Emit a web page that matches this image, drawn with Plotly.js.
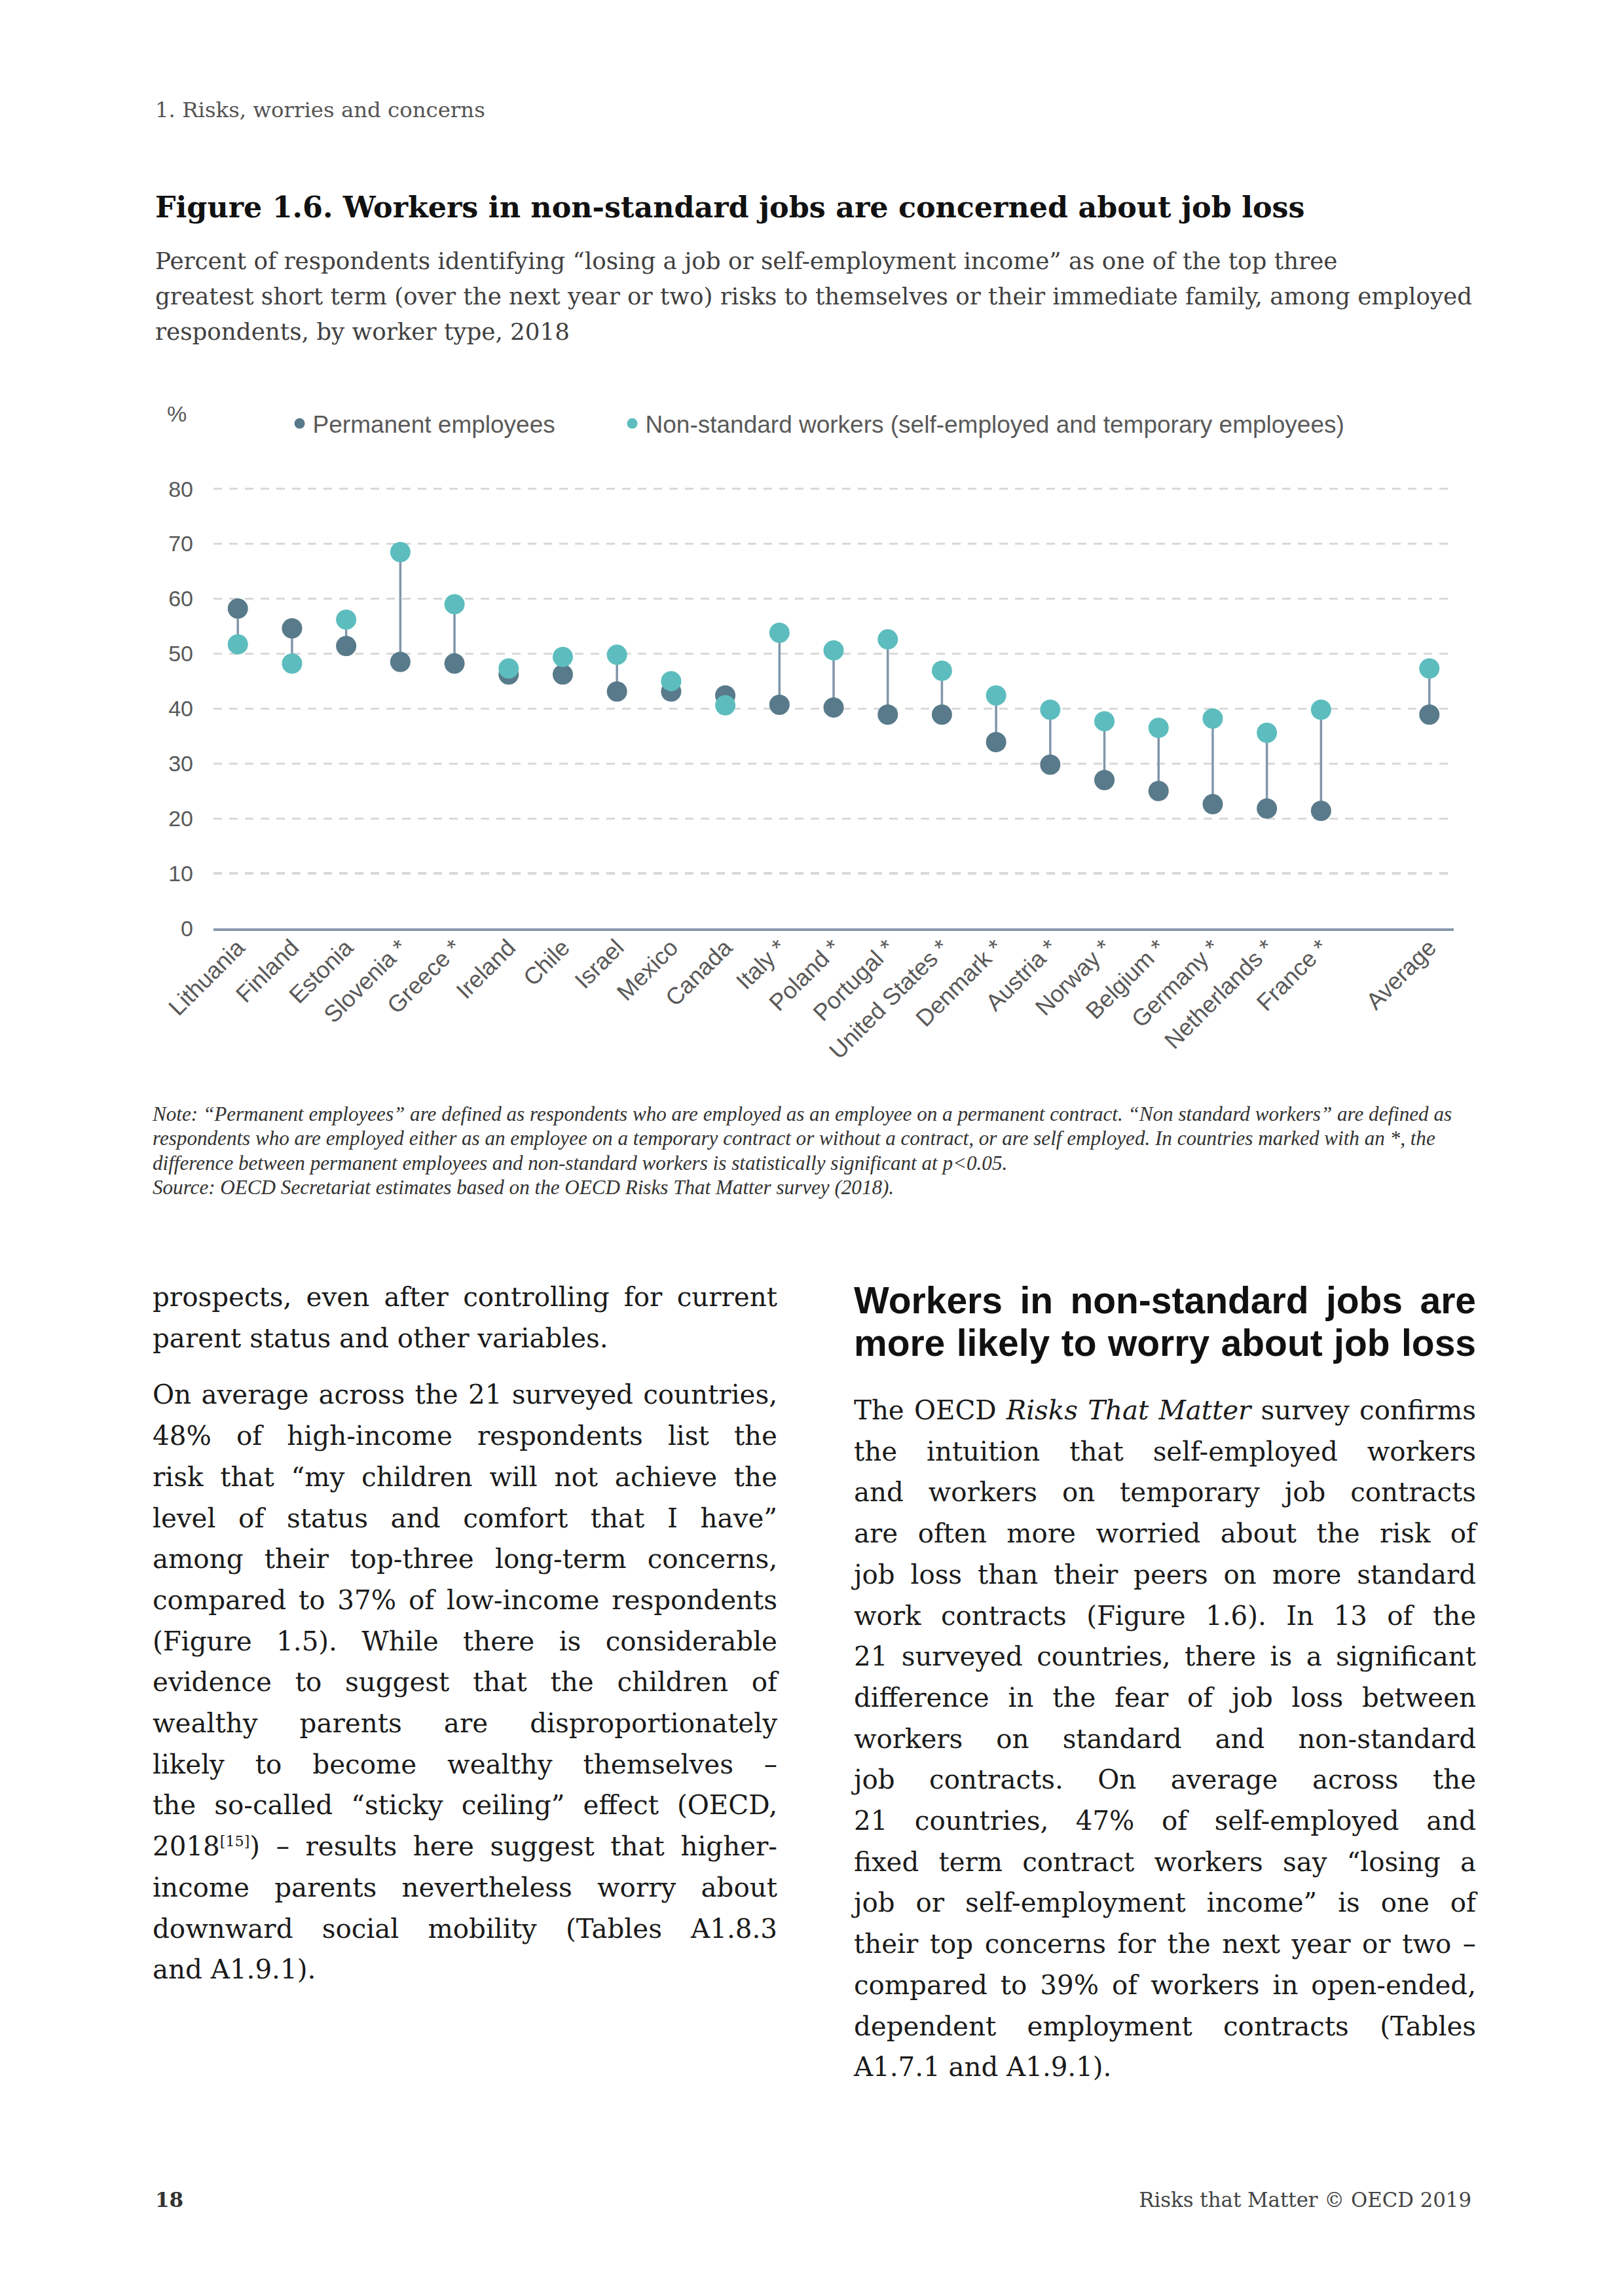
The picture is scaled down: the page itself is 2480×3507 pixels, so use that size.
<!DOCTYPE html>
<html>
<head>
<meta charset="utf-8">
<script src="https://cdn.plot.ly/plotly-3.0.1.min.js"></script>
<style>
  html, body { margin:0; padding:0; background:#fff; }
  body { width:2480px; height:3507px; position:relative; overflow:hidden; }
  .abs { position:absolute; }
  .serif { font-family:"DejaVu Serif", serif; }
  .j { text-align:justify; text-align-last:justify; }
  .l { text-align:left; }
  .body-col { font-family:"DejaVu Serif", serif; font-size:40px; line-height:62.7px; color:#1a1a1a; }
  .notes { font-family:"Liberation Serif", serif; font-style:italic; font-size:30px; line-height:37.4px; color:#333; white-space:nowrap; }
</style>
</head>
<body>
<div id="hdr" class="abs serif" style="left:237px; top:148px; font-size:32px; line-height:40px; color:#555; white-space:nowrap;">1. Risks, worries and concerns</div>

<div id="ttl" class="abs serif" style="left:237px; top:288px; font-size:44px; line-height:56px; font-weight:bold; color:#111; white-space:nowrap;">Figure 1.6. Workers in non-standard jobs are concerned about job loss</div>

<div id="sub" class="abs serif" style="left:237px; top:372px; font-size:35px; line-height:53.8px; color:#404040; white-space:nowrap;">Percent of respondents identifying “losing a job or self-employment income” as one of the top three<br>greatest short term (over the next year or two) risks to themselves or their immediate family, among employed<br>respondents, by worker type, 2018</div>

<div id="chart" class="abs" style="left:0px; top:560px; width:2480px; height:1150px;"></div>

<div id="notes" class="abs notes" style="left:233px; top:1683px;">Note: “Permanent employees” are defined as respondents who are employed as an employee on a permanent contract. “Non standard workers” are defined as<br>respondents who are employed either as an employee on a temporary contract or without a contract, or are self employed. In countries marked with an *, the<br>difference between permanent employees and non-standard workers is statistically significant at p&lt;0.05.<br>Source: OECD Secretariat estimates based on the OECD Risks That Matter survey (2018).</div>

<div id="colL" class="abs body-col" style="left:233px; top:1951px; width:954px;">
  <div class="j">prospects, even after controlling for current</div>
  <div class="l">parent status and other variables.</div>
  <div style="height:24px"></div>
  <div class="j">On average across the 21 surveyed countries,</div>
  <div class="j">48% of high-income respondents list the</div>
  <div class="j">risk that “my children will not achieve the</div>
  <div class="j">level of status and comfort that I have”</div>
  <div class="j">among their top-three long-term concerns,</div>
  <div class="j">compared to 37% of low-income respondents</div>
  <div class="j">(Figure 1.5). While there is considerable</div>
  <div class="j">evidence to suggest that the children of</div>
  <div class="j">wealthy parents are disproportionately</div>
  <div class="j">likely to become wealthy themselves –</div>
  <div class="j">the so-called “sticky ceiling” effect (OECD,</div>
  <div class="j">2018<sup style="font-size:0.55em; line-height:0;">[15]</sup>) – results here suggest that higher-</div>
  <div class="j">income parents nevertheless worry about</div>
  <div class="j">downward social mobility (Tables A1.8.3</div>
  <div class="l">and A1.9.1).</div>
</div>

<div id="headR" class="abs" style="left:1304px; top:1954px; width:950px; font-family:'Liberation Sans', Arial, sans-serif; font-weight:bold; font-size:52px; line-height:65px; color:#111;">
  <div class="j">Workers in non-standard jobs are</div>
  <div class="j">more likely to worry about job loss</div>
</div>

<div id="colR" class="abs body-col" style="left:1304px; top:2124px; width:950px;">
  <div class="j">The OECD <i>Risks That Matter</i> survey confirms</div>
  <div class="j">the intuition that self-employed workers</div>
  <div class="j">and workers on temporary job contracts</div>
  <div class="j">are often more worried about the risk of</div>
  <div class="j">job loss than their peers on more standard</div>
  <div class="j">work contracts (Figure 1.6). In 13 of the</div>
  <div class="j">21 surveyed countries, there is a significant</div>
  <div class="j">difference in the fear of job loss between</div>
  <div class="j">workers on standard and non-standard</div>
  <div class="j">job contracts. On average across the</div>
  <div class="j">21 countries, 47% of self-employed and</div>
  <div class="j">fixed term contract workers say “losing a</div>
  <div class="j">job or self-employment income” is one of</div>
  <div class="j">their top concerns for the next year or two –</div>
  <div class="j">compared to 39% of workers in open-ended,</div>
  <div class="j">dependent employment contracts (Tables</div>
  <div class="l">A1.7.1 and A1.9.1).</div>
</div>

<div id="pg" class="abs serif" style="left:237px; top:3340px; font-size:31px; line-height:40px; font-weight:bold; color:#333;">18</div>
<div id="ftr" class="abs serif" style="right:233px; top:3340px; font-size:31px; line-height:40px; color:#444; white-space:nowrap;">Risks that Matter © OECD 2019</div>

<script>
// ---- Data ----
var categories = ["Lithuania", "Finland", "Estonia", "Slovenia *", "Greece *", "Ireland", "Chile",
  "Israel", "Mexico", "Canada", "Italy *", "Poland *", "Portugal *", "United States *",
  "Denmark *", "Austria *", "Norway *", "Belgium *", "Germany *", "Netherlands *", "France *",
  "Average"];
var permanent = [58.2, 54.6, 51.4, 48.5, 48.2, 46.2, 46.2, 43.1, 43.1, 42.4, 40.7, 40.2,
  38.9, 38.9, 33.9, 29.8, 27.0, 25.0, 22.6, 21.8, 21.4, 38.9];
var nonStandard = [51.7, 48.2, 56.2, 68.5, 59.0, 47.3, 49.4, 49.8, 45.0, 40.6, 53.8, 50.6,
  52.6, 46.9, 42.4, 39.8, 37.7, 36.5, 38.2, 35.6, 39.8, 47.3];
var yTicks = [0, 10, 20, 30, 40, 50, 60, 70, 80];
var seriesNames = ["Permanent employees", "Non-standard workers (self-employed and temporary employees)"];

// ---- text fitting helpers (page typography) ----
function natWidth(el) {
  var r = document.createRange(); r.selectNodeContents(el);
  return r.getBoundingClientRect().width;
}
function fitWidth(id, target) {
  var el = document.getElementById(id);
  var base = parseFloat(getComputedStyle(el).fontSize);
  var w = natWidth(el);
  if (w > 0) el.style.fontSize = (base * target / w) + "px";
}
function fitBlock(id, factor) {
  var el = document.getElementById(id);
  var lines = el.querySelectorAll(".j");
  var saved = [];
  lines.forEach(function (ln) { saved.push(ln.className); ln.className = "l"; ln.style.whiteSpace = "nowrap"; });
  var base = parseFloat(getComputedStyle(el).fontSize);
  var maxW = 0;
  lines.forEach(function (ln) { var w = natWidth(ln); if (w > maxW) maxW = w; });
  var target = el.clientWidth * factor;
  if (maxW > 0) el.style.fontSize = (base * target / maxW) + "px";
  lines.forEach(function (ln, i) { ln.className = saved[i]; ln.style.whiteSpace = ""; });
}
fitWidth("hdr", 504);
fitWidth("ttl", 1756);
fitWidth("sub", 2012);
fitWidth("notes", 1985);
fitWidth("ftr", 508);
fitBlock("colL", 0.985);
fitBlock("colR", 0.985);
fitBlock("headR", 0.99);

// ---- chart ----
// positions: one empty slot before "Average"
var xPos = categories.map(function (c, i) { return c === "Average" ? i + 1 : i; });

var lx = [], ly = [];
for (var i = 0; i < categories.length; i++) {
  lx.push(xPos[i], xPos[i], null);
  ly.push(permanent[i], nonStandard[i], null);
}

var darkCol = "#587a8a";
var tealCol = "#5dbdbe";

var traces = [
  { type: "scatter", mode: "lines", x: lx, y: ly, showlegend: false, hoverinfo: "skip",
    line: { color: "#8196aa", width: 3.5 } },
  { type: "scatter", mode: "markers", name: seriesNames[0], x: xPos, y: permanent,
    legend: "legend", marker: { color: darkCol, size: 31 } },
  { type: "scatter", mode: "markers", name: seriesNames[1], x: xPos, y: nonStandard,
    legend: "legend2", marker: { color: tealCol, size: 31 } }
];

var fontFam = "Liberation Sans, Arial, sans-serif";
var legFont = { family: fontFam, size: 37, color: "#595959" };
var layout = {
  width: 2480, height: 1150,
  margin: { l: 326, r: 260, t: 185, b: 292, pad: 0 },
  paper_bgcolor: "#ffffff", plot_bgcolor: "#ffffff",
  font: { family: fontFam, color: "#595959", size: 34 },
  showlegend: true,
  legend: { orientation: "h", x: 0.0589, y: 1.1452, xanchor: "left", yanchor: "middle",
    font: legFont, bgcolor: "rgba(0,0,0,0)" },
  legend2: { orientation: "h", x: 0.3271, y: 1.1452, xanchor: "left", yanchor: "middle",
    font: legFont, bgcolor: "rgba(0,0,0,0)" },
  xaxis: {
    range: [-0.45, 22.45], tickmode: "array", tickvals: xPos, ticktext: categories,
    tickangle: -45, tickfont: { family: fontFam, size: 36, color: "#595959" },
    ticklabelstandoff: -10,
    showgrid: false, zeroline: false, showline: true, linecolor: "#8798ab", linewidth: 4,
    ticks: "", fixedrange: true
  },
  yaxis: {
    range: [0, 80.2], tickmode: "array", tickvals: yTicks, ticktext: yTicks.map(String),
    showgrid: true, gridcolor: "#d9d9d9", gridwidth: 3.3, griddash: "13px,11px",
    zeroline: false, showline: false, ticks: "", ticklabelstandoff: 30,
    tickfont: { family: fontFam, size: 34, color: "#595959" }, fixedrange: true
  },
  annotations: [
    { text: "%", xref: "paper", yref: "paper", x: -0.0296, y: 1.168, xanchor: "center",
      yanchor: "middle", showarrow: false, font: { family: fontFam, size: 34, color: "#595959" } }
  ]
};

Plotly.newPlot("chart", traces, layout, { displayModeBar: false, staticPlot: true });
</script>
</body>
</html>
